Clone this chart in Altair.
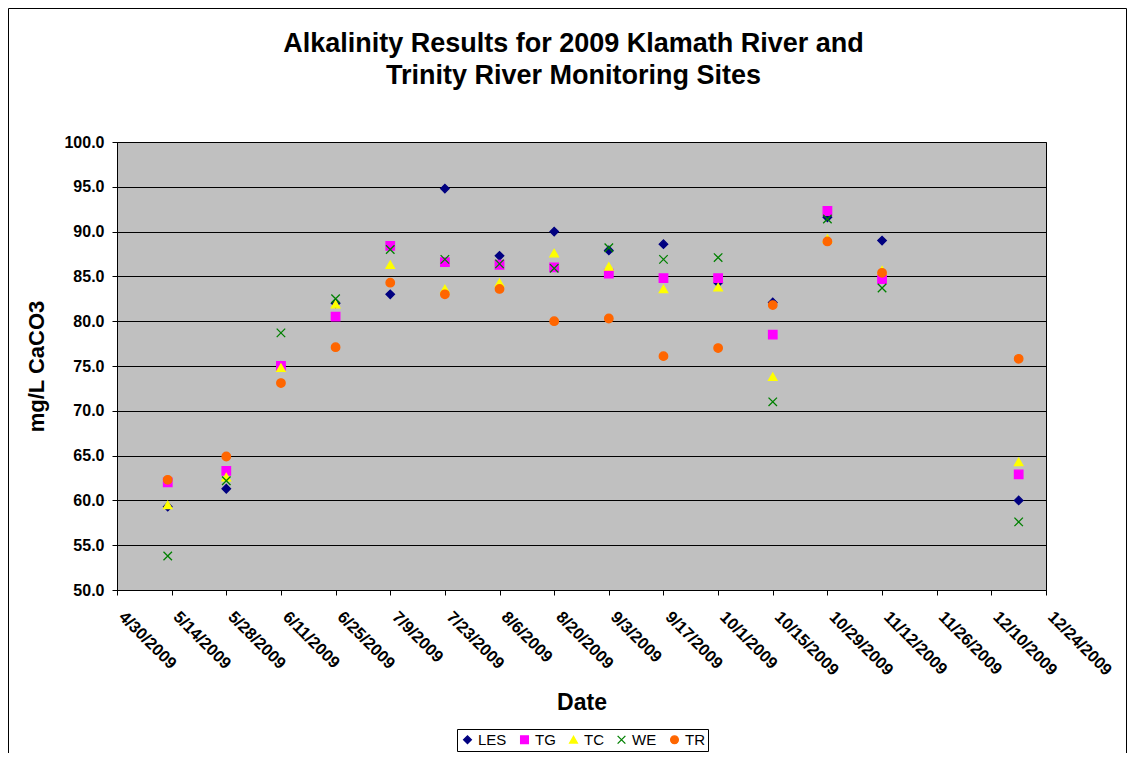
import altair as alt
import pandas as pd

# ---- data ----
sample_dates = ["5/13/2009", "5/28/2009", "6/11/2009", "6/25/2009", "7/9/2009",
                "7/23/2009", "8/6/2009", "8/20/2009", "9/3/2009", "9/17/2009",
                "10/1/2009", "10/15/2009", "10/29/2009", "11/12/2009", "12/17/2009"]
sites = ["LES", "TG", "TC", "WE", "TR"]
les = [59.3, 61.3, 75.0, 82.0, 83.0, 94.8, 87.3, 90.0, 87.9, 88.6, 84.3, 82.1, 91.6, 89.0, 60.0]
tg = [62.0, 63.3, 75.0, 80.5, 88.4, 86.6, 86.3, 86.0, 85.3, 84.8, 84.8, 78.5, 92.3, 84.7, 62.9]
tc = [59.5, 62.6, 74.8, 81.9, 86.3, 83.6, 84.3, 87.6, 86.1, 83.6, 83.8, 73.8, 89.2, 85.7, 64.3]
we = [53.8, 62.2, 78.7, 82.5, 88.0, 86.9, 86.4, 85.9, 88.2, 86.9, 87.1, 71.0, 91.4, 83.7, 57.6]
tr = [62.3, 64.9, 73.1, 77.1, 84.3, 83.0, 83.6, 80.0, 80.3, 76.1, 77.0, 81.8, 88.9, 85.4, 75.8]
tick_labels = ["4/30/2009", "5/14/2009", "5/28/2009", "6/11/2009", "6/25/2009",
               "7/9/2009", "7/23/2009", "8/6/2009", "8/20/2009", "9/3/2009",
               "9/17/2009", "10/1/2009", "10/15/2009", "10/29/2009", "11/12/2009",
               "11/26/2009", "12/10/2009", "12/24/2009"]
y_ticks = [50, 55, 60, 65, 70, 75, 80, 85, 90, 95, 100]

colors = ["#000080", "#FF00FF", "#FFFF00", "#008000", "#FF6600"]
shapes = ["diamond", "square", "triangle-up", "M-1,-1L1,1M-1,1L1,-1", "circle"]

start = pd.to_datetime(tick_labels[0], format="%m/%d/%Y")


def day(s):
    return int((pd.to_datetime(s, format="%m/%d/%Y") - start).days)


rows = []
for k, (site, vals) in enumerate(zip(sites, [les, tg, tc, we, tr])):
    for d, v in zip(sample_dates, vals):
        rows.append({"site": site, "date": d, "day": day(d), "value": v, "ord": k})
df = pd.DataFrame(rows)

tick_days = [day(t) for t in tick_labels]
label_js = "[" + ",".join("'" + t + "'" for t in tick_labels) + "]"
label_expr = label_js + "[round(datum.value/14)]"

FONT = "Liberation Sans"

points = alt.Chart(df).mark_point(
    filled=True, size=72, strokeWidth=1.3, opacity=1
).encode(
    x=alt.X("day:Q",
            scale=alt.Scale(domain=[tick_days[0], tick_days[-1]], nice=False, zero=False),
            axis=alt.Axis(values=tick_days, labelExpr=label_expr, labelAngle=45,
                          labelAlign="left", labelBaseline="middle", labelFontSize=16.5,
                          labelPadding=19, labelOffset=4, labelOverlap=False,
                          labelFlush=False, grid=False, titleFontSize=23, titleY=112,
                          titleBaseline="middle"),
            title="Date"),
    y=alt.Y("value:Q",
            scale=alt.Scale(domain=[50, 100], nice=False, zero=False),
            axis=alt.Axis(values=y_ticks, format=".1f", labelFontSize=16,
                          labelPadding=8, grid=True, titleFontSize=22,
                          titlePadding=15),
            title="mg/L CaCO3"),
    color=alt.Color("site:N", scale=alt.Scale(domain=sites, range=colors), title=None),
    stroke=alt.Stroke("site:N", scale=alt.Scale(domain=sites, range=colors), title=None),
    shape=alt.Shape("site:N", scale=alt.Scale(domain=sites, range=shapes), title=None),
    order=alt.Order("ord:Q"),
)

border = alt.Chart(pd.DataFrame({"k": [0]})).mark_rect(
    fillOpacity=0, stroke="black", strokeWidth=1
).encode(
    x=alt.value(-108.5), x2=alt.value(1009.5), y=alt.value(-133.5), y2=alt.value(700)
)

chart = alt.layer(points, border).properties(
    width=929,
    height=448,
    padding={"left": 109, "top": 134, "right": 81, "bottom": 163},
    autosize=alt.AutoSizeParams(type="none"),
    title=alt.TitleParams(
        text=["Alkalinity Results for 2009 Klamath River and",
              "Trinity River Monitoring Sites"],
        font=FONT, fontSize=27, fontWeight="bold", color="black",
        anchor="middle", frame="group", baseline="bottom",
        offset=0, dy=109, dx=-8, lineHeight=32,
    ),
).configure_view(
    fill="#C0C0C0", stroke="black", strokeWidth=1
).configure_axis(
    domainColor="black", tickColor="black", tickSize=5, labelColor="black",
    titleColor="black", labelFont=FONT, titleFont=FONT, labelFontWeight="bold",
    titleFontWeight="bold", gridColor="black", gridWidth=1, domainWidth=1,
).configure_legend(
    orient="none", legendX=340, legendY=587, direction="horizontal",
    strokeColor="black", fillColor="white", padding=3, labelFontSize=15,
    labelFont=FONT, labelColor="black", symbolSize=60, symbolStrokeWidth=1.3,
    columnPadding=10, labelOffset=3, cornerRadius=0,
)

chart.save("out.html", embed_options={"renderer": "svg", "actions": False})
